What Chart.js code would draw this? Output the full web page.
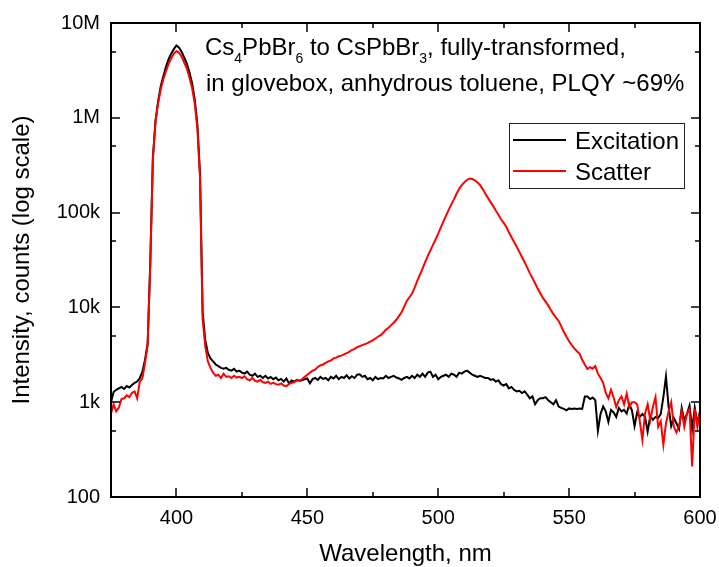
<!DOCTYPE html>
<html>
<head>
<meta charset="utf-8">
<script src="https://cdn.jsdelivr.net/npm/chart.js@4.4.0/dist/chart.umd.min.js"></script>
<style>
  html, body { margin: 0; padding: 0; background: #fff; }
  #chart { display: block; }
</style>
</head>
<body>
<canvas id="chart" width="719" height="567"></canvas>
<script>
// ---- data ----
const wavelength = [
  375, 376, 377, 378, 379, 380, 381, 382, 383, 384,
  385, 386, 387, 388, 389, 390, 391, 392, 393, 394,
  395, 396, 397, 398, 399, 400, 401, 402, 403, 404,
  405, 406, 407, 408, 409, 410, 411, 412, 413, 414,
  415, 416, 417, 418, 419, 420, 421, 422, 423, 424,
  425, 426, 427, 428, 429, 430, 431, 432, 433, 434,
  435, 436, 437, 438, 439, 440, 441, 442, 443, 444,
  445, 446, 447, 448, 449, 450, 451, 452, 453, 454,
  455, 456, 457, 458, 459, 460, 461, 462, 463, 464,
  465, 466, 467, 468, 469, 470, 471, 472, 473, 474,
  475, 476, 477, 478, 479, 480, 481, 482, 483, 484,
  485, 486, 487, 488, 489, 490, 491, 492, 493, 494,
  495, 496, 497, 498, 499, 500, 501, 502, 503, 504,
  505, 506, 507, 508, 509, 510, 511, 512, 513, 514,
  515, 516, 517, 518, 519, 520, 521, 522, 523, 524,
  525, 526, 527, 528, 529, 530, 531, 532, 533, 534,
  535, 536, 537, 538, 539, 540, 541, 542, 543, 544,
  545, 546, 547, 548, 549, 550, 551, 552, 553, 554,
  555, 556, 557, 558, 559, 560, 561, 562, 563, 564,
  565, 566, 567, 568, 569, 570, 571, 572, 573, 574,
  575, 576, 577, 578, 579, 580, 581, 582, 583, 584,
  585, 586, 587, 588, 589, 590, 591, 592, 593, 594,
  595, 596, 597, 598, 599, 600
];

const excitation = [
  1000, 1280, 1350, 1400, 1450, 1380, 1480, 1430, 1520, 1600,
  1650, 1800, 2100, 2800, 4200, 30000, 380000, 930000, 1500000, 2150000,
  2750000, 3450000, 4150000, 4750000, 5300000, 5800000, 5500000, 4950000, 4300000, 3700000,
  3000000, 2300000, 1550000, 850000, 260000, 9000, 4500, 3300, 2900, 2700,
  2500, 2400, 2300, 2250, 2300, 2200, 2150, 2250, 2100, 2150,
  2050, 2000, 2100, 1950, 1900, 2000, 1850, 1900, 1800, 1900,
  1780, 1850, 1750, 1820, 1700, 1760, 1650, 1780, 1580, 1700,
  1650, 1720, 1680, 1700, 1750, 1780, 1580, 1750, 1800, 1720,
  1850, 1760, 1800, 1700, 1850, 1780, 1900, 1750, 1850, 1800,
  1920, 1780, 1880, 1800, 1950, 1970, 1850, 1900, 1750, 1800,
  1700, 1850, 1750, 1800, 1780, 1900, 1800, 1850, 1900, 1820,
  1780, 1720, 1800, 1850, 1780, 1900, 1800, 1950, 1850, 2000,
  1850, 2050, 2100, 1850, 1950, 1750, 1850, 1900, 1950, 1850,
  2000, 1950, 1850, 2050, 2000, 2100, 2150, 2050, 1950, 1900,
  1850, 1900, 1850, 1800, 1800, 1720, 1750, 1650, 1700, 1550,
  1500, 1550, 1400, 1450, 1350, 1300, 1320, 1250, 1300, 1200,
  1100, 1150, 950, 1050, 1100, 1100, 1130, 1050, 1000, 950,
  1050, 900, 870, 850, 820, 860, 850, 860, 850, 860,
  850, 1150, 1150, 1080, 1120, 1050, 500, 750, 900, 800,
  620, 830, 780, 700, 870, 800, 830, 760, 950, 820,
  560, 780, 700, 750, 700, 490, 720, 650, 700, 680,
  750, 1130, 1860, 900, 560, 680, 600, 520, 870, 640,
  750, 920, 520, 870, 600, 800
];

const scatter = [
  760, 950, 800, 880, 1080, 1100, 1180, 1130, 1250, 1300,
  1100, 1650, 1800, 2600, 4000, 28000, 370000, 900000, 1420000, 2000000,
  2550000, 3100000, 3700000, 4250000, 4750000, 5050000, 4850000, 4400000, 3800000, 3300000,
  2650000, 2050000, 1400000, 780000, 230000, 7500, 3900, 2700, 2300, 2050,
  1900, 1950, 1800, 2000, 1850, 1880, 1800, 1900, 1820, 1850,
  1800, 1880, 1750, 1700, 1800, 1680, 1650, 1720, 1620, 1600,
  1650, 1560, 1600, 1550, 1530, 1580, 1500, 1480, 1550, 1600,
  1620, 1700, 1680, 1750, 1850, 1950, 2050, 2150, 2200, 2350,
  2450, 2500, 2600, 2700, 2750, 2900, 2950, 3050, 3100, 3200,
  3300, 3400, 3550, 3650, 3800, 3900, 4000, 4100, 4200, 4350,
  4500, 4700, 4900, 5100, 5400, 5800, 6100, 6500, 6900, 7400,
  8100, 8900, 10200, 11700, 12800, 14000, 16200, 19000, 22000, 25700,
  30000, 34700, 40000, 45700, 52000, 60000, 70000, 81000, 93000, 107000,
  122000, 138000, 158000, 178000, 195000, 209000, 221000, 229000, 226000, 219000,
  208000, 195000, 177000, 158000, 143000, 129000, 117000, 105000, 95000, 85000,
  78000, 71000, 62000, 55000, 49000, 43600, 38500, 34000, 30000, 26300,
  23000, 20400, 18000, 15800, 14100, 12600, 11500, 10500, 9400, 8500,
  7800, 7200, 6300, 5500, 4900, 4400, 4000, 3700, 3450, 3240,
  2800, 2500, 2240, 2340, 2250, 2400, 2000, 1800, 1600, 1250,
  1100, 1350, 1120, 890, 1050, 1150, 950, 1230, 890, 1000,
  1000, 950, 630, 400, 760, 950, 650, 890, 1130, 550,
  630, 355, 600, 800, 1000, 550, 480, 560, 800, 550,
  760, 850, 210, 850, 550, 800
];

const seriesLabels = ["Excitation", "Scatter"];
const seriesColors = ["#000000", "#ff0000"];

const xTickValues = [400, 450, 500, 550, 600];
const xMinorValues = [375, 425, 475, 525, 575];
const yTickValues = [100, 1000, 10000, 100000, 1000000, 10000000];
const yTickLabels = ["100", "1k", "10k", "100k", "1M", "10M"];
const yMinorValues = [500, 5000, 50000, 500000, 5000000];

const noteLine1 = [["Cs", false], ["4", true], ["PbBr", false], ["6", true],
  [" to CsPbBr", false], ["3", true], [", fully-transformed,", false]];
const noteLine2 = "in glovebox, anhydrous toluene, PLQY ~69%";

// ---- drawing helpers ----
const FONT = '"Liberation Sans", Arial, sans-serif';
Chart.defaults.color = "#000";
Chart.defaults.font.family = FONT;

const toXY = (vals) => wavelength.map((w, i) => ({ x: w, y: vals[i] }));

// frame, inward ticks on all four sides, note text and boxed legend
const framePlugin = {
  id: "frame",
  afterDatasetsDraw(chart) {
    const { ctx, chartArea: a, scales } = chart;
    const sx = scales.x, sy = scales.y;
    ctx.save();
    ctx.strokeStyle = "#000";
    ctx.lineWidth = 2;
    ctx.strokeRect(a.left, a.top, a.right - a.left, a.bottom - a.top);

    const seg = (x1, y1, x2, y2) => {
      ctx.beginPath(); ctx.moveTo(x1, y1); ctx.lineTo(x2, y2); ctx.stroke();
    };
    ctx.lineWidth = 1.5;
    const xt = (v, len) => {
      const px = Math.round(sx.getPixelForValue(v));
      seg(px, a.bottom, px, a.bottom - len);
      seg(px, a.top, px, a.top + len);
    };
    const yt = (v, len) => {
      const py = Math.round(sy.getPixelForValue(v));
      seg(a.left, py, a.left + len, py);
      seg(a.right, py, a.right - len, py);
    };
    xTickValues.forEach((v) => xt(v, 9));
    xMinorValues.forEach((v) => xt(v, 5));
    yTickValues.forEach((v) => yt(v, 9));
    yMinorValues.forEach((v) => yt(v, 5));

    // note text
    ctx.fillStyle = "#000";
    ctx.textBaseline = "alphabetic";
    ctx.textAlign = "left";
    let x = 205;
    noteLine1.forEach(([txt, sub]) => {
      ctx.font = (sub ? "14px " : "24px ") + FONT;
      ctx.fillText(txt, x, sub ? 63 : 55);
      x += ctx.measureText(txt).width;
    });
    ctx.font = "24px " + FONT;
    ctx.fillText(noteLine2, 206, 91);

    // legend box
    const bx = 509, by = 123, bw = 175, bh = 65;
    ctx.fillStyle = "#fff";
    ctx.fillRect(bx, by, bw, bh);
    ctx.strokeStyle = "#222";
    ctx.lineWidth = 1;
    ctx.strokeRect(bx + 0.5, by + 0.5, bw, bh);
    chart.data.datasets.forEach((ds, i) => {
      const ly = 140 + i * 31;
      ctx.strokeStyle = ds.borderColor;
      ctx.lineWidth = 2;
      seg(513, ly, 566, ly);
      ctx.fillStyle = "#000";
      ctx.font = "24px " + FONT;
      ctx.fillText(ds.label, 575, ly + 8.5);
    });
    ctx.restore();
  }
};

new Chart(document.getElementById("chart"), {
  type: "line",
  data: {
    datasets: [
      { label: seriesLabels[0], data: toXY(excitation), borderColor: seriesColors[0], order: 1 },
      { label: seriesLabels[1], data: toXY(scatter), borderColor: seriesColors[1], order: 0 }
    ]
  },
  options: {
    responsive: false,
    animation: false,
    devicePixelRatio: 1,
    layout: { padding: { left: 0, top: 23, right: 19, bottom: 0 } },
    elements: {
      line: { borderWidth: 2, tension: 0, fill: false },
      point: { radius: 0 }
    },
    plugins: { legend: { display: false }, title: { display: false }, tooltip: { enabled: false } },
    scales: {
      x: {
        type: "linear",
        min: 375,
        max: 600,
        afterBuildTicks: (s) => { s.ticks = xTickValues.map((v) => ({ value: v })); },
        afterFit: (s) => { s.height = 70; s.paddingLeft = 0; s.paddingRight = 0; },
        grid: { display: true, drawOnChartArea: false, drawTicks: false },
        border: { display: false },
        ticks: { font: { size: 20 }, padding: 9, maxRotation: 0, autoSkip: false },
        title: { display: true, text: "Wavelength, nm", font: { size: 24 }, padding: { top: 0, bottom: -2 } }
      },
      y: {
        type: "logarithmic",
        min: 100,
        max: 10000000,
        afterBuildTicks: (s) => { s.ticks = yTickValues.map((v) => ({ value: v })); },
        afterFit: (s) => { s.width = 111; s.paddingTop = 0; s.paddingBottom = 0; },
        grid: { display: true, drawOnChartArea: false, drawTicks: false },
        border: { display: false },
        ticks: {
          font: { size: 20 },
          padding: 11,
          autoSkip: false,
          callback: (v) => {
            const i = yTickValues.indexOf(v);
            return i >= 0 ? yTickLabels[i] : "";
          }
        },
        title: { display: true, text: "Intensity, counts (log scale)", font: { size: 24 }, padding: { top: 8, bottom: 0 } }
      }
    }
  },
  plugins: [framePlugin]
});
</script>
</body>
</html>
